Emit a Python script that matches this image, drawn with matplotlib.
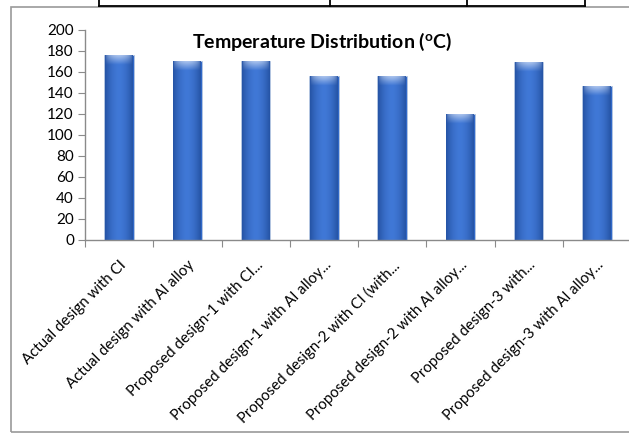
import numpy as np
import matplotlib
matplotlib.use("Agg")
import matplotlib.pyplot as plt
from matplotlib.lines import Line2D
from matplotlib.patches import Rectangle

categories = [
    "Actual design with CI",
    "Actual design with Al alloy",
    "Proposed design-1 with CI...",
    "Proposed design-1 with Al alloy...",
    "Proposed design-2 with CI (with...",
    "Proposed design-2 with Al alloy...",
    "Proposed design-3 with...",
    "Proposed design-3 with Al alloy...",
]
temperatures = [176, 170, 170, 156, 156, 120, 169, 146]
yticks = [0, 20, 40, 60, 80, 100, 120, 140, 160, 180, 200]
title = "Temperature Distribution ($\\mathregular{^{o}}$C)"

plt.rcParams['font.family'] = ['Lato', 'DejaVu Sans']

W, H = 629, 433
fig = plt.figure(figsize=(W / 100, H / 100), dpi=100)

# outer chart frame (gray)
fig.add_artist(Rectangle((11 / W, 1 - 432 / H), (W + 5 - 11) / W, (432 - 7) / H,
                         transform=fig.transFigure, fill=False,
                         edgecolor='#9a9a9a', linewidth=1.2))
# table fragment at top
fig.add_artist(Line2D([99 / W, 585 / W], [1 - 6 / H, 1 - 6 / H],
                      transform=fig.transFigure, color='black', linewidth=1.3))
for xv in [99, 330, 467, 585]:
    fig.add_artist(Line2D([xv / W, xv / W], [1.0, 1 - 6 / H],
                          transform=fig.transFigure, color='black', linewidth=1.3))

ax_left, ax_right = 85 / W, 631 / W
ax_bottom, ax_top = 1 - 240 / H, 1 - 29.5 / H
ax = fig.add_axes([ax_left, ax_bottom, ax_right - ax_left, ax_top - ax_bottom])

x = np.arange(len(categories))
bar_w = 0.43
bars = ax.bar(x, temperatures, width=bar_w, color='#3068C8',
              edgecolor='#b8c8e0', linewidth=0.6, zorder=2)

# cylinder-like gradient inside each bar
cols = np.linspace(-1, 1, 40)
prof = 1 - np.abs(cols) ** 1.8
dark = np.array([0.15, 0.33, 0.65])
light = np.array([0.25, 0.47, 0.84])
base = dark[None, :] + (light - dark)[None, :] * prof[:, None]
for b, v in zip(bars, temperatures):
    nrows = 200
    img = np.tile(base[None, :, :], (nrows, 1, 1))
    rows_px = np.arange(nrows) / nrows * v * 1.05
    hl = np.clip(1 - rows_px / 9.0, 0, 1) * 0.55
    cap = (prof[None, :] ** 0.5) * hl[:, None]
    img = img + (1 - img) * cap[:, :, None]
    xl = b.get_x()
    im = ax.imshow(img, extent=[xl + 0.01, xl + b.get_width() - 0.01, 0, v - 0.4],
                   origin='upper', aspect='auto', zorder=2.5, interpolation='bilinear')
    im.set_clip_path(b)

ax.set_xlim(-0.5, len(categories) - 0.5)
ax.set_ylim(0, 200)
ax.set_yticks(yticks)
ax.set_yticklabels([str(t) for t in yticks], fontsize=11)

ax.set_xticks(np.arange(len(categories) + 1) - 0.5)
ax.set_xticklabels([])
ax.set_xticks(x, minor=True)
ax.set_xticklabels(categories, minor=True, rotation=45, ha='right',
                   rotation_mode='anchor', fontsize=10.8)
ax.tick_params(axis='x', which='minor', length=0, pad=13)
ax.tick_params(axis='x', which='major', length=5, color='#8a8a8a', direction='out')
ax.tick_params(axis='y', length=5, color='#8a8a8a', direction='out', pad=3)

for s in ['top', 'right']:
    ax.spines[s].set_visible(False)
for s in ['left', 'bottom']:
    ax.spines[s].set_color('#8a8a8a')
    ax.spines[s].set_linewidth(1.0)

fig.text(322 / W, 1 - 42 / H, title, fontsize=14, fontweight='bold',
         ha='center', va='center')

fig.savefig('out.png', dpi=100)
